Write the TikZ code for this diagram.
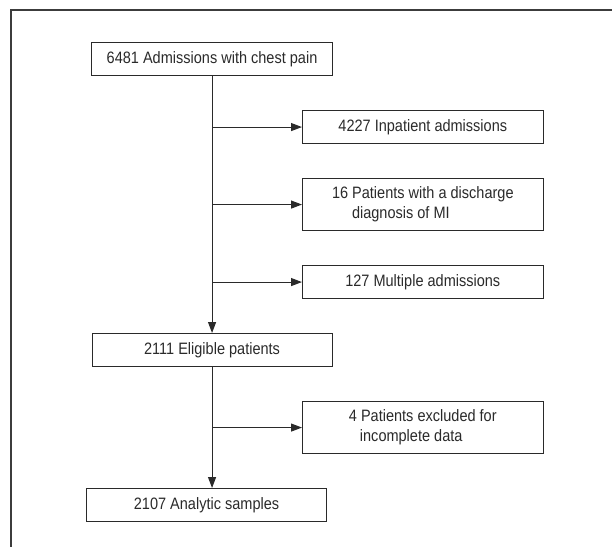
\documentclass[tikz,border=0pt]{standalone}
\usepackage{fontspec}
\setmainfont[FakeStretch=0.88]{Liberation Sans}
\usetikzlibrary{arrows.meta}
\definecolor{ink}{HTML}{2A2A2A}
\definecolor{framec}{HTML}{3C3C3C}
\tikzset{
  x=1pt, y=-1pt,
  box/.style={draw=ink, line width=1.1pt, minimum height=33pt, inner sep=0pt,
    text=ink, font=\fontsize{16.5}{20}\selectfont, anchor=north west},
  flow/.style={draw=ink, line width=1.1pt, -{Triangle[length=11pt,width=8pt]}},
  framel/.style={draw=framec, line width=1.6pt}
}
\begin{document}
\begin{tikzpicture}
\useasboundingbox (0,0) rectangle (612,547);
\coordinate (ftr) at (612,10);
\coordinate (ftl) at (11,10);
\coordinate (fbl) at (11,547);
\draw[framel] (ftr) -- (ftl) -- (fbl);

\node[box, minimum width=241pt] (b1) at (91,42) {6481 Admissions with chest pain};
\node[box, minimum width=240.5pt] (b2) at (302,110) {4227 Inpatient admissions};
\node[box, minimum width=240.5pt, minimum height=52pt, align=left] (b3) at (302,178)
  {16 Patients with a discharge\\\hspace*{20pt}diagnosis of MI};
\node[box, minimum width=240.5pt] (b4) at (302,265) {127 Multiple admissions};
\node[box, minimum width=240pt] (b5) at (91.5,333) {2111 Eligible patients};
\node[box, minimum width=240.5pt, minimum height=52pt, align=left] (b6) at (302,401)
  {4 Patients excluded for\\\hspace*{11pt}incomplete data};
\node[box, minimum width=240pt] (b7) at (86,488) {2107 Analytic samples};

\draw[flow] (b1.south) -- (b5.north);
\draw[flow] (b2.west -| b1.south) -- (b2.west);
\draw[flow] (b3.west -| b1.south) -- (b3.west);
\draw[flow] (b4.west -| b1.south) -- (b4.west);
\draw[flow] (b6.west -| b5.south) -- (b6.west);
\draw[flow] (b5.south) -- (b5.south |- b7.north);
\end{tikzpicture}
\end{document}
